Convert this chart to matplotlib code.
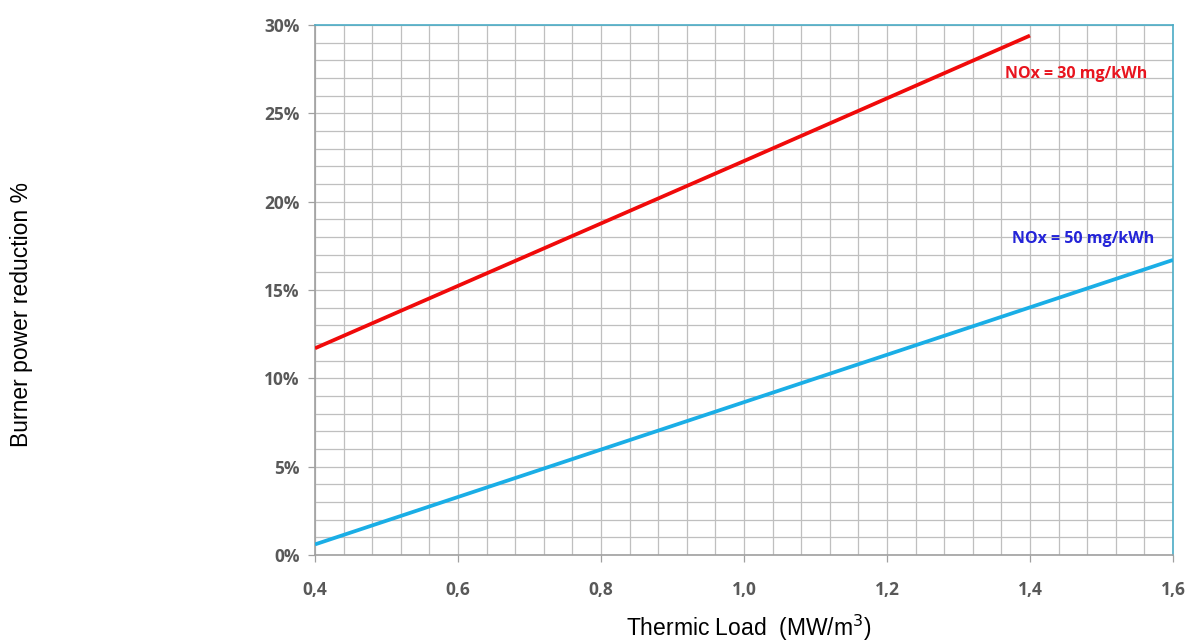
import matplotlib
matplotlib.use("Agg")
import matplotlib.pyplot as plt
from matplotlib.ticker import MultipleLocator, FuncFormatter

# Values
load_30 = [0.4, 1.0, 1.4]
red_30 = [11.7, 22.3, 29.4]
load_50 = [0.4, 1.0, 1.6]
blue_50 = [0.6, 8.65, 16.7]
label_30 = "NOx = 30 mg/kWh"
label_50 = "NOx = 50 mg/kWh"

TICK_FONT = ["Open Sans", "DejaVu Sans"]
GRID = "#bfbfbf"
TICK_COL = "#595959"
FRAME_BLUE = "#4bacc6"

fig = plt.figure(figsize=(11.9, 6.44), dpi=100)
ax = fig.add_axes([0.2647, 0.1382, 0.7210, 0.8230])

ax.plot(load_30, red_30, color="#f00a0a", lw=2.7, solid_capstyle="butt", zorder=3)
ax.plot(load_50, blue_50, color="#1aaee6", lw=2.7, solid_capstyle="butt", zorder=3)

ax.set_xlim(0.4, 1.6)
ax.set_ylim(0, 30)
ax.xaxis.set_major_locator(MultipleLocator(0.2))
ax.xaxis.set_minor_locator(MultipleLocator(0.04))
ax.yaxis.set_major_locator(MultipleLocator(5))
ax.yaxis.set_minor_locator(MultipleLocator(1))
ax.xaxis.set_major_formatter(FuncFormatter(lambda v, p: f"{v:.1f}".replace(".", ",")))
ax.yaxis.set_major_formatter(FuncFormatter(lambda v, p: f"{v:.0f}%"))

ax.grid(True, which="both", color=GRID, lw=0.9, zorder=0)
ax.set_axisbelow(True)

ax.tick_params(axis="both", which="major", length=5, width=0.9, color="#a0a0a0",
               labelcolor=TICK_COL, labelsize=12.5)
ax.tick_params(axis="x", which="major", pad=14)
ax.tick_params(axis="y", which="major", pad=6)
ax.tick_params(which="minor", length=0)
for lab in ax.get_xticklabels() + ax.get_yticklabels():
    lab.set_family(TICK_FONT)
    lab.set_fontweight("bold")

ax.spines["left"].set_color("#a0a0a0")
ax.spines["bottom"].set_color("#a0a0a0")
ax.spines["top"].set_color(FRAME_BLUE)
ax.spines["right"].set_color(FRAME_BLUE)
for s in ax.spines.values():
    s.set_linewidth(1.2)

ax.text(1.365, 27.2, label_30, color="#e8141e", fontsize=11.5, family=TICK_FONT,
        fontweight="bold", ha="left", va="center")
ax.text(1.375, 17.9, label_50, color="#2424d8", fontsize=11.5, family=TICK_FONT,
        fontweight="bold", ha="left", va="center")

fig.text(0.018, 0.511, "Burner power reduction %", rotation=90, ha="center", va="center",
         fontsize=16.5, family=["Liberation Sans", "DejaVu Sans"])
fig.text(0.629, 0.025, "Thermic Load  (MW/m$^3$)", ha="center", va="center",
         fontsize=16.5, family=["Liberation Sans", "DejaVu Sans"])

fig.savefig("out.png", dpi=100)
